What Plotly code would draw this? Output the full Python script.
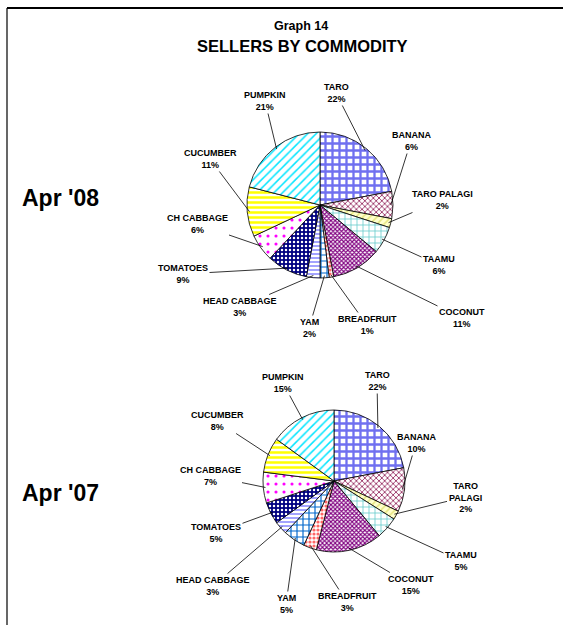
import math
import plotly.graph_objects as go

# ---------------- data ----------------
categories = ["TARO", "BANANA", "TARO PALAGI", "TAAMU", "COCONUT", "BREADFRUIT",
              "YAM", "HEAD CABBAGE", "TOMATOES", "CH CABBAGE", "CUCUMBER", "PUMPKIN"]
apr08 = [22, 6, 2, 6, 11, 1, 2, 3, 9, 6, 11, 21]
apr07 = [22, 10, 2, 5, 15, 3, 5, 3, 5, 7, 8, 15]
period_labels = ["Apr '08", "Apr '07"]
title_top = "Graph 14"
title_main = "SELLERS BY COMMODITY"

# ---------------- styles ----------------
W, H = 567, 625
bgs = ["#ffffff", "#ffffff", "#ffffcc", "#ffffff", "#ffffff", "#ffffff",
       "#ffffff", "#ffffff", "#000080", "#ffffff", "#ffffff", "#ffffff"]
fgs = ["#7070f0", "#993366", "#e6e680", "#66cccc", "#800080", "#ff6666",
       "#0066cc", "#9999ff", "#ffffff", "#ff00ff", "#ffff00", "#00e5ff"]
shapes = ["+", "x", "/", "+", "x", ".", "+", "-", ".", ".", "-", "/"]
sizes = [7, 4, 5, 6, 3, 4, 6, 4, 4, 8, 5, 6]
sols = [0.55, 0.4, 0.3, 0.25, 0.6, 0.5, 0.35, 0.45, 0.3, 0.12, 0.5, 0.25]

FONT = "Liberation Sans, Arial, sans-serif"
LBL_FONT = dict(family=FONT, size=9, color="black")

pies = [
    dict(values=apr08, cx=320, cy=205, r=73, side=(60, 198),
         text_pos=[(336, 93), (411, 141), (442, 200), (439, 265), (462, 318), (367, 325),
                   (309, 328), (240, 307), (183, 274), (197, 224), (210, 159), (265, 101)],
         names=categories),
    dict(values=apr07, cx=334, cy=481, r=71, side=(60, 493),
         text_pos=[(377, 381), (416, 443), (465, 497), (461, 561), (411, 585), (347, 602),
                   (286, 604), (213, 586), (216, 533), (210, 476), (217, 421), (283, 383)],
         names=[c if c != "TARO PALAGI" else "TARO<br>PALAGI" for c in categories]),
]

fig = go.Figure()
annotations = []

for i, p in enumerate(pies):
    cx, cy, r = p["cx"], p["cy"], p["r"]
    fig.add_trace(go.Pie(
        labels=categories, values=p["values"], sort=False, direction="clockwise",
        rotation=0, textinfo="none", hoverinfo="label+percent", showlegend=False,
        domain=dict(x=[(cx - r) / W, (cx + r) / W], y=[1 - (cy + r) / H, 1 - (cy - r) / H]),
        marker=dict(colors=bgs, line=dict(color="black", width=0.8),
                    pattern=dict(shape=shapes, fgcolor=fgs, bgcolor=bgs, size=sizes,
                                 solidity=sols, fillmode="replace")),
    ))
    total = sum(p["values"])
    cum = 0
    for v, name, (tx, ty) in zip(p["values"], p["names"], p["text_pos"]):
        mid = (cum + v / 2) / total * 2 * math.pi
        cum += v
        px = cx + r * 0.97 * math.sin(mid)
        py = cy - r * 0.97 * math.cos(mid)
        annotations.append(dict(
            x=px / W, y=1 - py / H, xref="paper", yref="paper",
            ax=tx - px, ay=ty - py, axref="pixel", ayref="pixel",
            text=f"<b>{name}<br>{v}%</b>", showarrow=True, arrowhead=0, arrowwidth=0.8,
            arrowcolor="black", standoff=0, startstandoff=0, font=LBL_FONT,
            align="center"))
    sx, sy = p["side"]
    annotations.append(dict(
        x=sx / W, y=1 - sy / H, xref="paper", yref="paper", showarrow=False,
        text=f"<b>{period_labels[i]}</b>", xanchor="center", yanchor="middle",
        font=dict(family=FONT, size=23, color="black")))

annotations.append(dict(x=301 / W, y=1 - 26 / H, xref="paper", yref="paper", showarrow=False,
                        text=f"<b>{title_top}</b>", xanchor="center", yanchor="middle",
                        font=dict(family=FONT, size=12.5, color="black")))
annotations.append(dict(x=302 / W, y=1 - 46 / H, xref="paper", yref="paper", showarrow=False,
                        text=f"<b>{title_main}</b>", xanchor="center", yanchor="middle",
                        font=dict(family=FONT, size=16.5, color="black")))

fig.update_layout(
    width=W, height=H, margin=dict(l=0, r=0, t=0, b=0),
    paper_bgcolor="white", plot_bgcolor="white",
    annotations=annotations,
    shapes=[
        dict(type="line", xref="paper", yref="paper", x0=7 / W, x1=563 / W,
             y0=1 - 8 / H, y1=1 - 8 / H, line=dict(color="black", width=2)),
        dict(type="line", xref="paper", yref="paper", x0=7 / W, x1=7 / W,
             y0=1 - 8 / H, y1=0, line=dict(color="black", width=1.2)),
    ],
)

fig.write_html("out.html", config={"displayModeBar": False},
               post_script="document.body.style.margin='0px';")
